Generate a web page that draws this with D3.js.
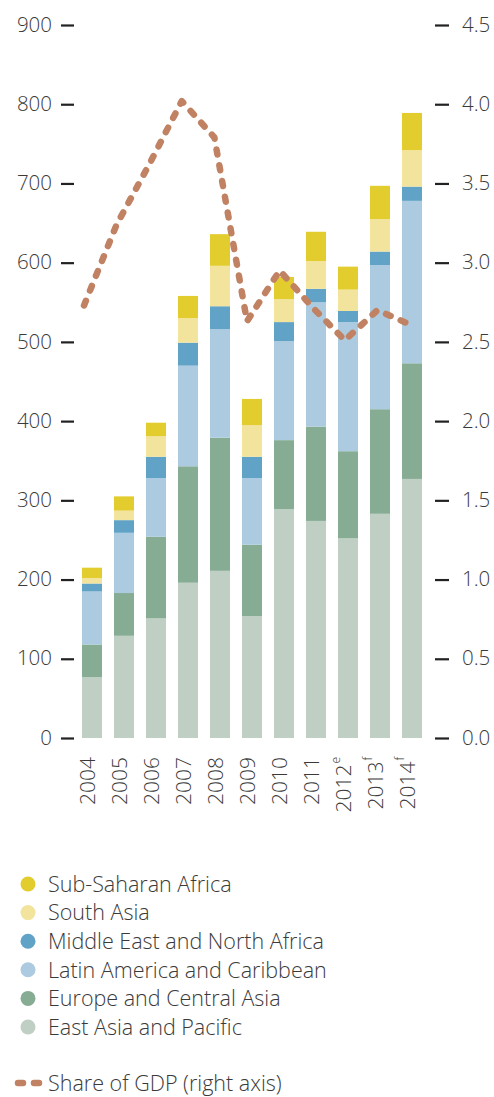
<!DOCTYPE html>
<html><head><meta charset="utf-8">
<script src="https://cdn.jsdelivr.net/npm/d3@7"></script>
<style>
html,body{margin:0;padding:0;background:#fff;}
svg{display:block;}
text{font-family:"Open Sans",sans-serif;fill:#3a3a3a;}
</style></head>
<body>
<script>
const years = ["2004","2005","2006","2007","2008","2009","2010","2011","2012","2013","2014"];
const yearSup = ["","","","","","","","","e","f","f"];
const eastAsiaPacific   = [77,129,151,196,211,154,289,274,252,283,327];
const europeCentralAsia = [41,54,103,147,168,90,87,119,110,132,146];
const latinAmerica      = [67,76,74,127,137,84,125,157,163,182,205];
const middleEastNAfrica = [10,16,27,29,29,27,24,17,14,17,18];
const southAsia         = [7,12,26,31,51,40,29,35,27,41,46];
const subSaharanAfrica  = [13,18,17,28,40,33,28,37,29,42,47];
const shareOfGDP        = [2.73,3.24,3.62,4.02,3.79,2.63,2.95,2.72,2.51,2.70,2.61];
const leftTicks  = [0,100,200,300,400,500,600,700,800,900];
const rightTicks = [0,0.5,1,1.5,2,2.5,3,3.5,4,4.5];

const seriesNames  = ["East Asia and Pacific","Europe and Central Asia","Latin America and Caribbean","Middle East and North Africa","South Asia","Sub-Saharan Africa"];
const seriesColors = ["#bfcfc4","#86ac94","#adcbe0","#61a3c7","#f2e49c","#e3cd2e"];
const seriesValues = [eastAsiaPacific,europeCentralAsia,latinAmerica,middleEastNAfrica,southAsia,subSaharanAfrica];

const W = 494, H = 1097;
const svg = d3.select("body").append("svg").attr("width",W).attr("height",H);

const x = d3.scaleBand().domain(years).range([76,428]).paddingInner(0.375).paddingOuter(0.1875);
const y = d3.scaleLinear().domain([0,900]).range([738,25]);
const y2 = d3.scaleLinear().domain([0,4.5]).range([738,25]);
const xl = d3.scalePoint().domain(years).range([84,410]);

const table = years.map((yr,i)=>{const o={year:yr}; seriesNames.forEach((n,k)=>o[n]=seriesValues[k][i]); return o;});
const stacked = d3.stack().keys(seriesNames)(table);

svg.append("g").selectAll("g").data(stacked).join("g")
  .attr("fill",(d,i)=>seriesColors[i])
  .selectAll("rect").data(d=>d).join("rect")
  .attr("x",d=>x(d.data.year)).attr("width",x.bandwidth())
  .attr("y",d=>y(d[1])).attr("height",d=>y(d[0])-y(d[1]));

const axL = svg.append("g").attr("transform","translate(74,0)")
  .call(d3.axisLeft(y).tickValues(leftTicks).tickSize(13).tickPadding(9).tickFormat(d3.format("d")));
const axR = svg.append("g").attr("transform","translate(435,0)")
  .call(d3.axisRight(y2).tickValues(rightTicks).tickSize(14).tickPadding(13).tickFormat(d3.format(".1f")));
[axL,axR].forEach(a=>{
  a.select(".domain").remove();
  a.selectAll(".tick line").attr("stroke","#222").attr("stroke-width",2.2);
  a.selectAll(".tick text").attr("font-size",20.5).attr("fill","#3a3a3a").attr("font-family","'Open Sans',sans-serif").attr("font-weight",300).attr("dy","0.3em");
});

const xlab = svg.append("g");
years.forEach((yr,i)=>{
  const t = xlab.append("text")
    .attr("transform",`translate(${x(yr)+x.bandwidth()/2-5},757) rotate(-90)`)
    .attr("text-anchor","end").attr("dy","0.36em").attr("font-size",21).attr("font-weight",300);
  t.append("tspan").text(yr);
  if(yearSup[i]) t.append("tspan").attr("font-size",12).attr("dy","-0.9em").attr("dx","1").text(yearSup[i]);
});

const line = d3.line().x((d,i)=>xl(years[i])).y(d=>y2(d));
svg.append("path").datum(shareOfGDP).attr("d",line)
  .attr("fill","none").attr("stroke","#c08262").attr("stroke-width",6.5)
  .attr("stroke-linecap","round").attr("stroke-linejoin","round")
  .attr("stroke-dasharray","5 11");

const legNames = seriesNames.slice().reverse();
const legColors = seriesColors.slice().reverse();
const leg = svg.append("g");
legNames.forEach((n,i)=>{
  const cy = 884 + i*28.6;
  leg.append("circle").attr("cx",28).attr("cy",cy).attr("r",7.5).attr("fill",legColors[i]);
  leg.append("text").attr("x",48).attr("y",cy).attr("dy","0.36em").attr("font-size",21.5).attr("font-weight",300).text(n);
});
const ly = 1083;
leg.append("line").attr("x1",18).attr("x2",40).attr("y1",ly).attr("y2",ly)
  .attr("stroke","#c08262").attr("stroke-width",6.5).attr("stroke-linecap","round").attr("stroke-dasharray","5 11");
leg.append("text").attr("x",48).attr("y",ly).attr("dy","0.36em").attr("font-size",21.5).attr("font-weight",300).text("Share of GDP (right axis)");
</script>
</body></html>
